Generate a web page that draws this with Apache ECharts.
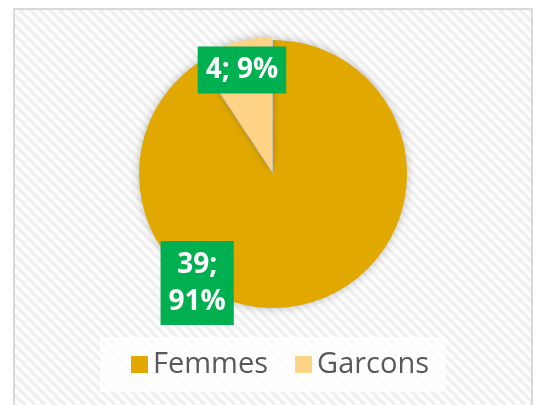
<!DOCTYPE html>
<html>
<head>
<meta charset="utf-8">
<script src="https://cdn.jsdelivr.net/npm/echarts@6/dist/echarts.min.js"></script>
<style>
  html, body { margin: 0; padding: 0; background: #fff; }
  #chart-wrap { width: 536px; height: 405px; }
</style>
</head>
<body>
<div id="chart-wrap"></div>
<script>
var categories = ['Femmes', 'Garcons'];
var values = [39, 4];
var colors = ['#e1a900', '#ffd386'];
// label offsets (px) from the default inside position, Excel had them moved by hand
var labelShift = [[-96, 42], [-10, -34]];

;(function(){
  // diagonal hatch tile for the chart area
  var tile = document.createElement('canvas');
  tile.width = 10;
  tile.height = 10;
  var ctx = tile.getContext('2d');
  ctx.fillStyle = '#fcfcfc';
  ctx.fillRect(0, 0, 10, 10);
  ctx.strokeStyle = '#eeeeee';
  ctx.lineWidth = 3;
  for (var c = -10; c <= 10; c += 10) {
    ctx.beginPath();
    ctx.moveTo(-2, c - 2);
    ctx.lineTo(12, c + 12);
    ctx.stroke();
  }

  var pieData = [];
  for (var i = 0; i < categories.length; i++) {
    pieData.push({
      name: categories[i],
      value: values[i],
      selected: i === 1,
      itemStyle: { color: colors[i] }
    });
  }

  var myChart = echarts.init(document.getElementById('chart-wrap'));
  var option = {
    backgroundColor: '#fff',
    animation: false,
    graphic: [{
      type: 'rect',
      z: -10,
      shape: { x: 14, y: 9, width: 518, height: 410 },
      style: {
        fill: { image: tile, repeat: 'repeat' },
        stroke: '#d9d9d9',
        lineWidth: 2
      }
    }],
    legend: {
      data: categories,
      left: 100,
      top: 337,
      itemWidth: 17,
      itemHeight: 17,
      itemGap: 27,
      icon: 'rect',
      padding: [12, 17, 12, 31],
      backgroundColor: 'rgba(255,255,255,0.8)',
      textStyle: {
        fontFamily: 'Open Sans',
        fontSize: 29,
        color: '#595959',
        lineHeight: 31
      }
    },
    series: [{
      type: 'pie',
      center: [273, 174],
      radius: 134,
      startAngle: 90,
      clockwise: true,
      percentPrecision: 0,
      selectedMode: 'single',
      selectedOffset: 3,
      avoidLabelOverlap: false,
      itemStyle: {
        shadowBlur: 8,
        shadowColor: 'rgba(0,0,0,0.25)'
      },
      label: {
        show: true,
        position: 'inside',
        formatter: function(p){
          return p.dataIndex === 0 ? p.value + ';\n' + p.percent + '%' : p.value + '; ' + p.percent + '%';
        },
        backgroundColor: '#00b050',
        color: '#fff',
        fontFamily: 'Open Sans',
        fontWeight: 'bold',
        fontSize: 28,
        lineHeight: 37,
        padding: [5, 8]
      },
      labelLayout: function(params){
        var s = labelShift[params.dataIndex];
        return { dx: s[0], dy: s[1] };
      },
      emphasis: { disabled: true },
      data: pieData
    }]
  };
  myChart.setOption(option);
})();
</script>
</body>
</html>
